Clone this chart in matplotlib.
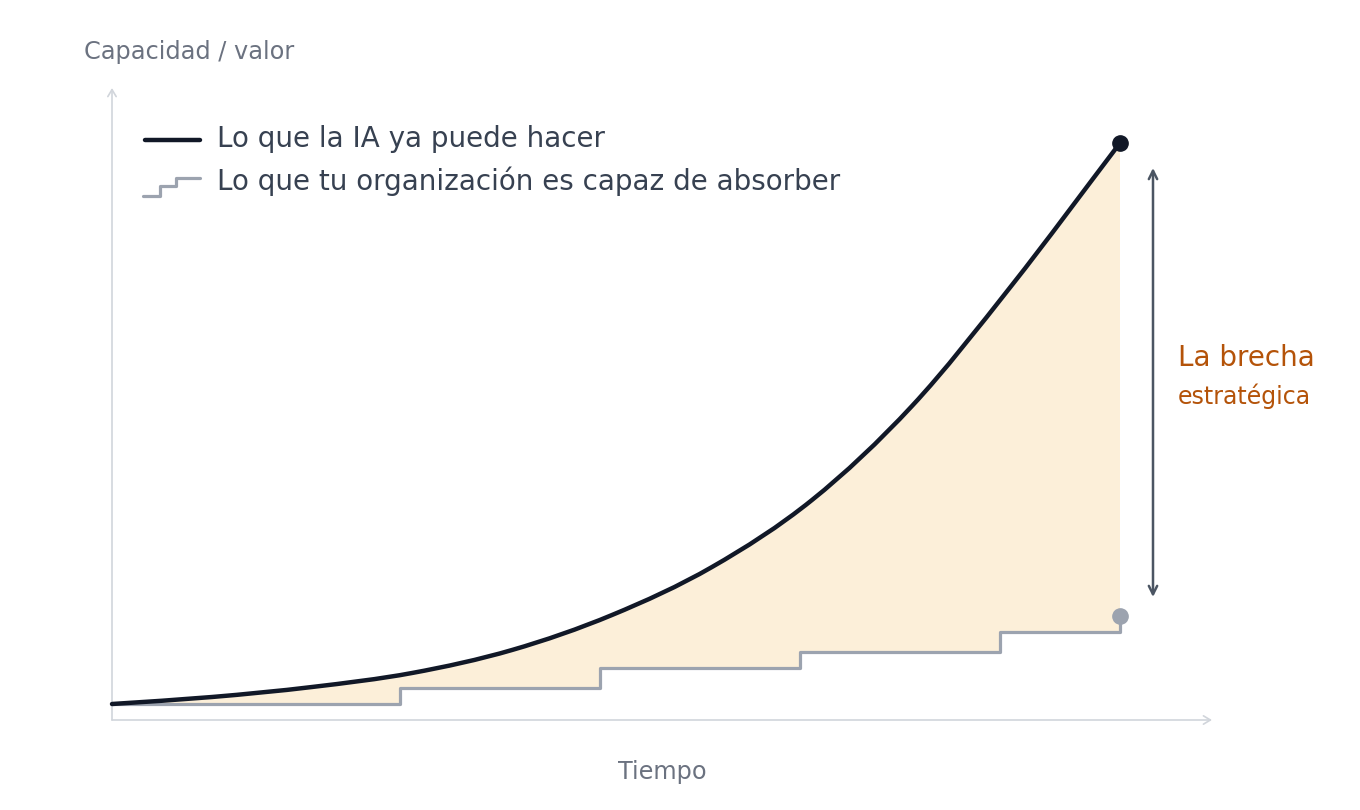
import matplotlib.pyplot as plt
from matplotlib.path import Path
from matplotlib.patches import PathPatch
import numpy as np

# lo que la IA ya puede hacer (tiempo, capacidad)
ia_t = [0, 1, 2, 3, 4, 5, 6, 7, 8, 9, 10.08]
ia_v = [0.16, 0.23, 0.33, 0.47, 0.70, 1.05, 1.53, 2.20, 3.14, 4.35, 5.77]

# lo que la organizacion absorbe (escalones)
org_t = [0, 2.88, 4.88, 6.88, 8.88, 10.08]
org_v = [0.16, 0.32, 0.52, 0.68, 0.88, 0.88]
org_end = 1.04

ia_label = "Lo que la IA ya puede hacer"
org_label = "Lo que tu organización es capaz de absorber"

c_ia = "#111827"
c_org = "#9CA3AF"
c_fill = "#FCEFD9"
c_axis = "#D1D5DB"
c_muted = "#6B7280"
c_text = "#374151"
c_gap = "#B45309"
c_arrow = "#4B5563"


def smooth_path(xs, ys):
    # curva bezier que pasa por los puntos (catmull-rom)
    p = np.column_stack([xs, ys])
    p_ext = np.vstack([2 * p[0] - p[1], p, 2 * p[-1] - p[-2]])
    verts = [p[0]]
    codes = [Path.MOVETO]
    for i in range(1, len(p_ext) - 2):
        p0, p1, p2, p3 = p_ext[i - 1], p_ext[i], p_ext[i + 1], p_ext[i + 2]
        verts += [p1 + (p2 - p0) / 6, p2 - (p3 - p1) / 6, p2]
        codes += [Path.CURVE4] * 3
    return verts, codes


fig = plt.figure(figsize=(13.6, 8.1), dpi=100)
ax = fig.add_axes([0, 0, 1, 1])
ax.set_xlim(-1.12, 12.48)
ax.set_ylim(-0.9, 7.2)
ax.axis("off")

curve_v, curve_c = smooth_path(ia_t, ia_v)

# relleno de la brecha: curva + escalones de vuelta
back = [(org_t[-1], org_v[-1])]
for i in range(len(org_t) - 2, -1, -1):
    back.append((org_t[i + 1], org_v[i]))
    back.append((org_t[i], org_v[i]))
fill_verts = curve_v + back + [curve_v[0]]
fill_codes = curve_c + [Path.LINETO] * len(back) + [Path.CLOSEPOLY]
ax.add_patch(PathPatch(Path(fill_verts, fill_codes), facecolor=c_fill, lw=0, zorder=1))

# ejes
ax.annotate("", xy=(11.0, 0), xytext=(0, 0),
            arrowprops=dict(arrowstyle="->,head_length=0.5,head_width=0.3", color=c_axis, lw=1.2,
                            shrinkA=0, shrinkB=0))
ax.annotate("", xy=(0, 6.32), xytext=(0, 0),
            arrowprops=dict(arrowstyle="->,head_length=0.5,head_width=0.3", color=c_axis, lw=1.2,
                            shrinkA=0, shrinkB=0))

# series
ax.step(org_t + [org_t[-1]], org_v + [org_end], where="post", color=c_org, lw=2.3, zorder=3)
ax.add_patch(PathPatch(Path(curve_v, curve_c), fill=False, edgecolor=c_ia, lw=3.2,
                       capstyle="round", zorder=4))
ax.plot(ia_t[-1], ia_v[-1], "o", color=c_ia, ms=11, zorder=5)
ax.plot(org_t[-1], org_end, "o", color=c_org, ms=11, zorder=5)

# flecha de la brecha
ax.annotate("", xy=(10.41, 5.52), xytext=(10.41, 1.23),
            arrowprops=dict(arrowstyle="<->,head_length=0.6,head_width=0.3", color=c_arrow, lw=1.8,
                            shrinkA=0, shrinkB=0))
ax.text(10.66, 3.62, "La brecha", color=c_gap, fontsize=20, va="center", ha="left")
ax.text(10.66, 3.24, "estratégica", color=c_gap, fontsize=17, va="center", ha="left")

# leyenda
ax.plot([0.33, 0.88], [5.80, 5.80], color=c_ia, lw=3.2, solid_capstyle="round")
ax.plot([0.31, 0.48, 0.48, 0.64, 0.64, 0.88], [5.24, 5.24, 5.34, 5.34, 5.42, 5.42],
        color=c_org, lw=2.3, solid_capstyle="round")
ax.text(1.05, 5.81, ia_label, color=c_text, fontsize=20, va="center", ha="left")
ax.text(1.05, 5.39, org_label, color=c_text, fontsize=20, va="center", ha="left")

# etiquetas de ejes
ax.text(-0.28, 6.68, "Capacidad / valor", color=c_muted, fontsize=17.3, va="center", ha="left")
ax.text(5.50, -0.52, "Tiempo", color=c_muted, fontsize=17.3, va="center", ha="center")

fig.savefig("out.png", dpi=100, facecolor="white")
